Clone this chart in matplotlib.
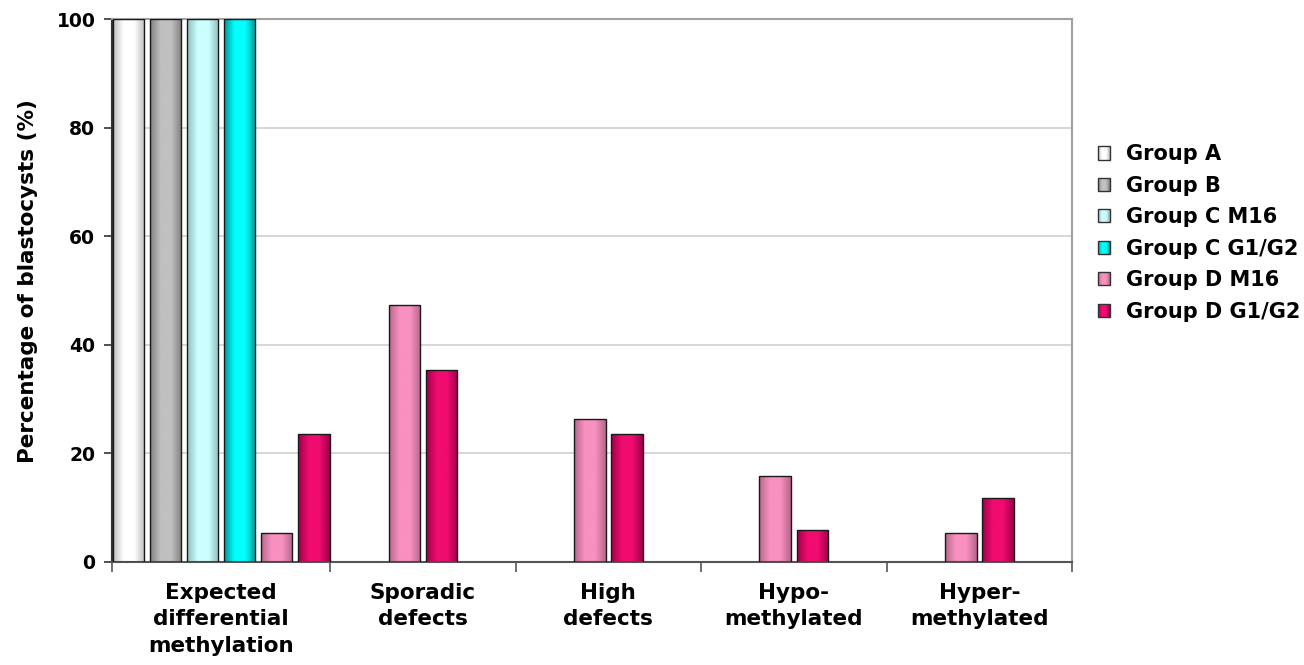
import numpy as np
import matplotlib.pyplot as plt
from matplotlib.colors import LinearSegmentedColormap
from matplotlib.patches import Patch, Rectangle
from matplotlib.legend_handler import HandlerBase

plt.rcParams['font.family'] = ['DejaVu Sans']
plt.rcParams['font.weight'] = 'bold'

categories = ["Expected\ndifferential\nmethylation", "Sporadic\ndefects", "High\ndefects",
              "Hypo-\nmethylated", "Hyper-\nmethylated"]
series_names = ["Group A", "Group B", "Group C M16", "Group C G1/G2", "Group D M16", "Group D G1/G2"]
group_a = [100, 0, 0, 0, 0]
group_b = [100, 0, 0, 0, 0]
group_c_m16 = [100, 0, 0, 0, 0]
group_c_g1g2 = [100, 0, 0, 0, 0]
group_d_m16 = [5.3, 47.4, 26.3, 15.8, 5.3]
group_d_g1g2 = [23.5, 35.3, 23.5, 5.9, 11.8]
yticks = [0, 20, 40, 60, 80, 100]

# (edge shade, centre highlight) for the cylinder-like gradient
shades = [("#bdbdbd", "#ffffff"), ("#7f7f7f", "#c0c0c0"), ("#8fbcbc", "#ccffff"),
          ("#009494", "#00ffff"), ("#b5668a", "#f890c0"), ("#9c0048", "#f00c70")]

values = [group_a, group_b, group_c_m16, group_c_g1g2, group_d_m16, group_d_g1g2]

fig = plt.figure(figsize=(13.04, 6.65), dpi=100)
ax = fig.add_axes([0.0859, 0.1549, 0.7362, 0.8165])

# first category holds all six groups, so it is a bit wider
widths = np.array([1.176, 1, 1, 1, 1])
edges = np.concatenate([[0], np.cumsum(widths)])
centers = (edges[:-1] + edges[1:]) / 2
bw = 0.17
step = 0.2


def make_cmap(c_edge, c_mid):
    return LinearSegmentedColormap.from_list("g", [c_edge, c_mid, c_mid, c_edge], N=256)


def gradient_fill(patch, c_edge, c_mid):
    grad = np.linspace(0, 1, 256).reshape(1, -1)
    x0, y0 = patch.get_x(), patch.get_y()
    w, h = patch.get_width(), patch.get_height()
    im = ax.imshow(grad, cmap=make_cmap(c_edge, c_mid), aspect='auto',
                   extent=[x0, x0 + w, y0, y0 + h], zorder=2, interpolation='bilinear')
    im.set_clip_path(patch)


for ci in range(len(categories)):
    present = [si for si in range(len(values)) if values[si][ci] > 0]
    if ci == 0:
        xs = [edges[0] + step * k + 0.003 for k in range(len(present))]
    else:
        n = len(present)
        start = centers[ci] - (n * step - (step - bw)) / 2
        xs = [start + step * k for k in range(n)]
    for x, si in zip(xs, present):
        bars = ax.bar(x, values[si][ci], width=bw, align='edge', facecolor='none',
                      edgecolor='#1a1a1a', linewidth=1.0, zorder=3)
        gradient_fill(bars[0], *shades[si])

ax.set_xlim(edges[0], edges[-1])
ax.set_ylim(0, 100)
ax.set_yticks(yticks)
ax.set_yticklabels([str(t) for t in yticks], fontsize=13.5, fontweight='bold')
ax.set_xticks(edges)
ax.set_xticklabels([])
ax.set_xticks(centers, minor=True)
ax.set_xticklabels(categories, minor=True, fontsize=15.5, fontweight='bold', linespacing=1.4)
ax.tick_params(axis='x', which='minor', length=0, pad=15)
ax.tick_params(axis='x', which='major', length=7, width=1.2, color='#555555', direction='out')
ax.tick_params(axis='y', length=6, width=1.2, color='#333333', direction='out', pad=6)

ax.grid(axis='y', color='#d0d0d0', linewidth=1.2, zorder=0)
ax.set_axisbelow(True)
ax.spines['left'].set_color('#333333')
ax.spines['left'].set_linewidth(1.5)
ax.spines['bottom'].set_color('#555555')
ax.spines['bottom'].set_linewidth(1.5)
ax.spines['top'].set_color('#a0a0a0')
ax.spines['top'].set_linewidth(1.5)
ax.spines['right'].set_color('#a0a0a0')
ax.spines['right'].set_linewidth(1.5)

ax.set_ylabel("Percentage of blastocysts (%)", fontsize=15.5, fontweight='bold')
ax.yaxis.set_label_coords(-0.077, 0.517)


class GradHandler(HandlerBase):
    def __init__(self, c_edge, c_mid):
        super().__init__()
        self.cmap = make_cmap(c_edge, c_mid)

    def create_artists(self, legend, orig_handle, xdescent, ydescent, width, height,
                       fontsize, trans):
        n = 12
        arts = []
        for k in range(n):
            col = self.cmap((k + 0.5) / n)
            arts.append(Rectangle((-xdescent + width * k / n, -ydescent), width / n + 0.2, height,
                                  facecolor=col, edgecolor='none', transform=trans))
        arts.append(Rectangle((-xdescent, -ydescent), width, height, facecolor='none',
                              edgecolor='#333333', linewidth=1.0, transform=trans))
        return arts


handles = [Patch(facecolor=m) for (e, m) in shades]
hmap = {h: GradHandler(*s) for h, s in zip(handles, shades)}
leg = fig.legend(handles, series_names, handler_map=hmap, loc='upper left',
                 bbox_to_anchor=(0.842, 0.783), frameon=False, fontsize=15,
                 handlelength=0.6, handleheight=0.6, handletextpad=0.75,
                 labelspacing=0.55, borderaxespad=0, borderpad=0)
for t in leg.get_texts():
    t.set_fontweight('bold')

fig.savefig("out.png", dpi=100)
